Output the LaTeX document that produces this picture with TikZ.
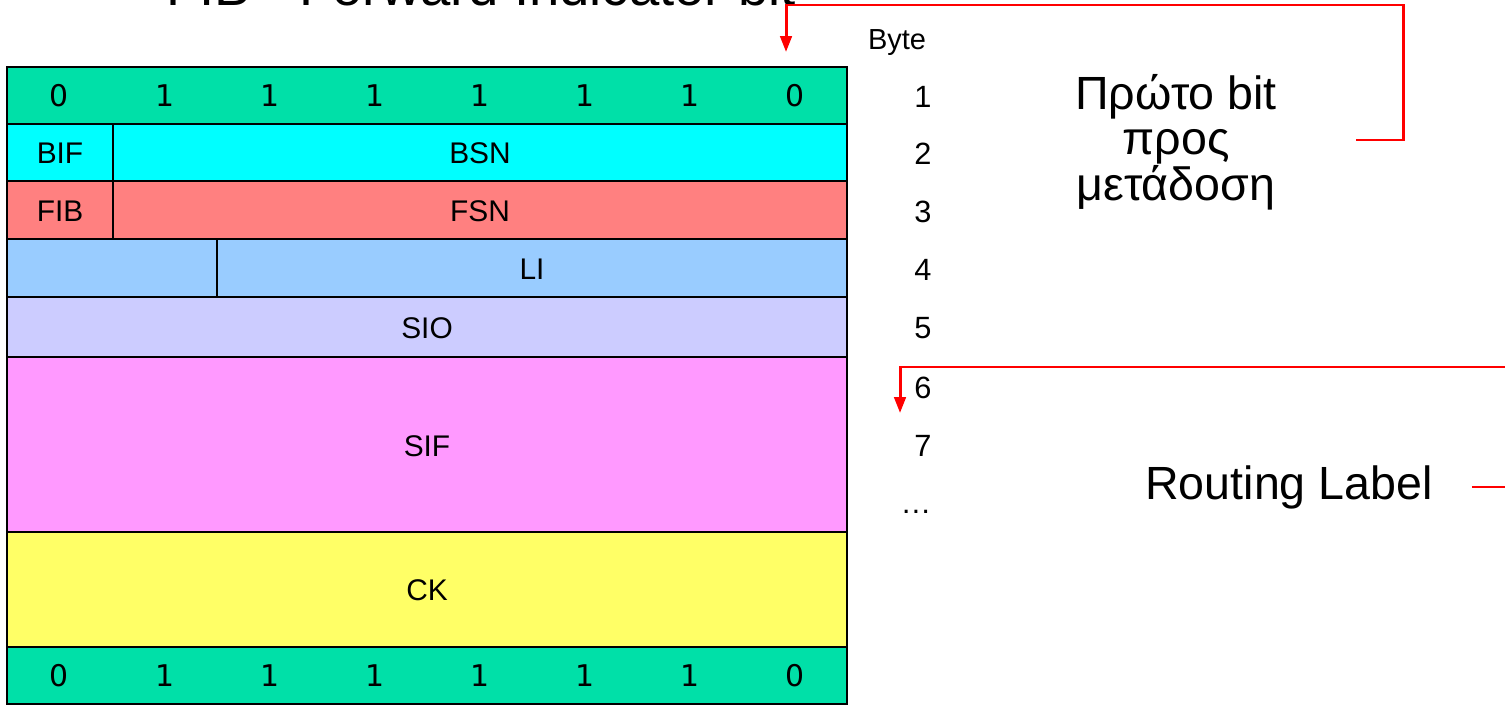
\documentclass[tikz,border=0pt]{standalone}
\usepackage{fontspec}
\setmainfont{Liberation Sans}
\newfontfamily\bitfont{DejaVu Sans}
\usetikzlibrary{arrows.meta}

\definecolor{bitgreen}{RGB}{0,224,168}
\definecolor{bsncyan}{RGB}{0,255,255}
\definecolor{fsnred}{RGB}{255,128,128}
\definecolor{liblue}{RGB}{153,204,255}
\definecolor{siolav}{RGB}{204,204,255}
\definecolor{sifpink}{RGB}{255,153,255}
\definecolor{ckyellow}{RGB}{255,255,102}

\tikzset{
  field/.style = {draw = black, line width = 1.1pt},
  bitnum/.style = {font = \bitfont\fontsize{17}{20}\selectfont},
  fieldname/.style = {font = \fontsize{17}{20}\selectfont},
  bytenum/.style = {font = \fontsize{17.5}{20}\selectfont},
  note/.style = {font = \fontsize{26.5}{26}\selectfont, align = center},
  redline/.style = {red, line width = 1.7pt},
  redarrow/.style = {redline, -{Triangle[length = 9pt, width = 6.5pt]}},
}

% one row of flag bits, #1 = top edge, #2 = name prefix
\newcommand\flagrow[2]{
  \filldraw[field, fill = bitgreen] (7, #1) rectangle (847, #1 + 57);
  \foreach \b [count = \i] in {0, 1, 1, 1, 1, 1, 1, 0}
    \node[bitnum] (#2\i) at (105 * \i - 45.5, #1 + 29) {\b};}

\begin{document}
\begin{tikzpicture}[x = 0.02cm, y = -0.02cm]
  \clip (0, 0) rectangle (1505, 706);

  \node[font = \fontsize{31}{34}\selectfont, anchor = base west]
    (title) at (160, 6) {FIB - Forward Indicator bit};

  \flagrow{67}{top}

  \filldraw[field, fill = bsncyan] (7, 124) rectangle (113, 181);
  \filldraw[field, fill = bsncyan] (113, 124) rectangle (847, 181);
  \node[fieldname] (bif) at (60, 153) {BIF};
  \node[fieldname] (bsn) at (480, 153) {BSN};

  \filldraw[field, fill = fsnred] (7, 181) rectangle (113, 239);
  \filldraw[field, fill = fsnred] (113, 181) rectangle (847, 239);
  \node[fieldname] (fib) at (60, 211) {FIB};
  \node[fieldname] (fsn) at (480, 211) {FSN};

  \filldraw[field, fill = liblue] (7, 239) rectangle (217, 297);
  \filldraw[field, fill = liblue] (217, 239) rectangle (847, 297);
  \node[fieldname] (li) at (532, 269) {LI};

  \filldraw[field, fill = siolav] (7, 297) rectangle (847, 357);
  \node[fieldname] (sio) at (427, 328) {SIO};

  \filldraw[field, fill = sifpink] (7, 357) rectangle (847, 532);
  \node[fieldname] (sif) at (427, 446) {SIF};

  \filldraw[field, fill = ckyellow] (7, 532) rectangle (847, 647);
  \node[fieldname] (ck) at (427, 590) {CK};

  \flagrow{647}{bot}

  % byte numbers
  \node[font = \fontsize{16.5}{18}\selectfont, anchor = base]
    (byte) at (897, 50) {Byte};
  \foreach \n/\y in {1/97, 2/154, 3/212, 4/270, 5/328, 6/388, 7/446}
    \node[bytenum] (byte\n) at (923, \y) {\n};
  \node[bytenum] (bytedots) at (916, 512) {\dots};

  \node[note] (first) at (1176, 142) {Πρώτο bit\\προς\\μετάδοση};
  \node[note] (route) at (1289, 487) {Routing Label};

  \coordinate (fstart) at (1356, 140);
  \coordinate (fend) at (786, 52);
  \draw[redarrow] (fstart) -| (1403, 5) -| (fend);

  \coordinate (rstart) at (1505, 367);
  \coordinate (rend) at (900, 413);
  \draw[redarrow] (rstart) -| (rend);

  \coordinate (rtail) at (1505, 487);
  \draw[redline] (route.east) ++(33, 0) -- (rtail);
\end{tikzpicture}
\end{document}
